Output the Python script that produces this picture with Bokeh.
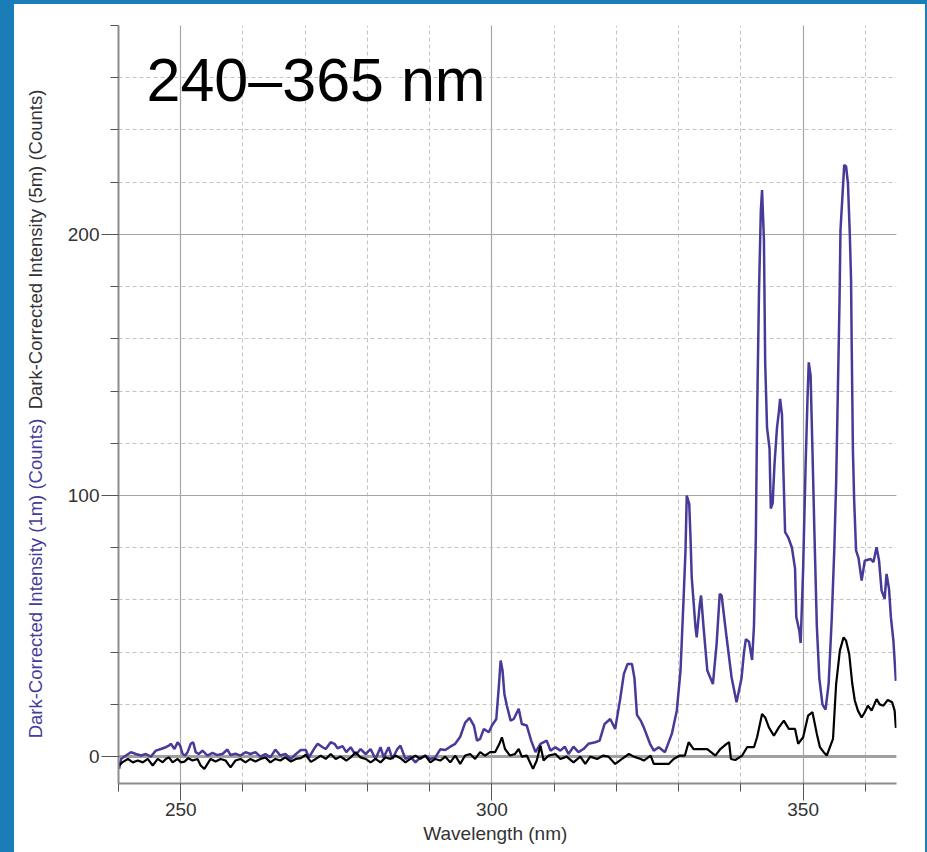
from bokeh.plotting import figure
from bokeh.models import Range1d, SingleIntervalTicker, Label, Span
from bokeh.layouts import row, column
from bokeh.core.properties import value
from bokeh.embed import file_html
from bokeh.resources import INLINE

# ---- data ----
wl_1m = [240.1, 240.4, 241.2, 242.0, 242.8, 243.6, 244.4, 245.2, 246.0, 246.8, 247.6, 248.1, 248.4, 249.0,
         249.5, 249.9, 250.3, 250.7, 251.1, 251.6, 252.0, 252.4, 252.9, 253.5, 254.3, 255.1, 255.9, 256.7,
         257.5, 258.0, 258.8, 259.6, 260.4, 261.2, 262.0, 262.8, 263.6, 264.4, 265.2, 266.0, 266.8, 267.7,
         268.5, 269.3, 270.1, 270.6, 271.4, 272.0, 272.8, 273.3, 274.1, 274.7, 275.2, 276.0, 276.6, 277.3,
         278.1, 278.9, 279.7, 280.5, 281.3, 282.1, 282.6, 283.4, 284.0, 284.8, 285.3, 286.1, 286.9, 287.7,
         288.5, 289.3, 290.1, 290.9, 291.7, 292.5, 293.3, 294.1, 294.9, 295.7, 296.4, 297.1, 297.6, 298.1,
         298.7, 299.5, 300.0, 300.7, 301.1, 301.4, 301.7, 302.0, 302.4, 303.0, 303.5, 304.3, 304.8, 305.6,
         306.3, 307.0, 307.8, 308.8, 309.4, 310.2, 311.0, 311.7, 312.3, 313.1, 313.9, 314.7, 315.5, 316.6,
         317.3, 318.1, 319.0, 319.8, 320.6, 321.2, 321.8, 322.5, 322.9, 323.3, 323.9, 324.4, 325.4, 326.0,
         326.8, 327.8, 328.9, 329.7, 330.3, 330.8, 331.1, 331.3, 331.7, 331.9, 332.1, 332.7, 332.9, 333.4,
         333.6, 334.0, 334.6, 335.5, 336.1, 336.6, 336.9, 337.7, 338.5, 339.3, 340.1, 340.5, 340.8, 341.3,
         341.8, 342.1, 342.4, 342.6, 342.9, 343.2, 343.4, 343.7, 343.9, 344.2, 344.6, 344.8, 345.1, 345.4,
         345.8, 346.1, 346.3, 346.6, 346.8, 347.1, 347.6, 348.2, 348.7, 348.9, 349.4, 349.6, 350.0, 350.4,
         350.7, 350.9, 351.2, 351.5, 351.8, 352.2, 352.6, 353.1, 353.6, 354.1, 354.6, 355.0, 355.3, 355.5,
         355.7, 355.85, 356.0, 356.3, 356.6, 356.9, 357.2, 357.5, 357.7, 357.8, 358.0, 358.2, 358.5, 358.9,
         359.4, 359.9, 360.8, 361.3, 361.8, 362.2, 362.6, 363.1, 363.4, 363.8, 364.1, 364.5, 364.9]
counts_1m = [-4.7, -0.9, 0.4, 1.7, 1.0, 0.4, 1.0, 0.0, 2.3, 2.9, 3.6, 4.2, 4.9, 2.9,
             5.5, 4.2, 1.0, 0.4, 1.7, 4.9, 5.5, 1.7, 1.0, 2.3, 0.4, 1.4, 0.6, 1.0,
             2.7, 0.6, 1.1, 0.4, 1.7, 1.0, 1.7, 0.0, 1.0, -0.3, 2.7, 0.4, 1.0, -0.9,
             1.0, 2.5, 2.5, -0.3, 2.9, 4.9, 3.6, 2.9, 5.5, 4.9, 3.2, 4.0, 1.7, 3.6,
             0.6, 2.9, 1.0, 2.9, -0.9, 3.6, -0.3, 3.6, -0.9, 2.9, 4.2, -0.9, 0.0, -2.2,
             -0.3, 0.4, -0.9, -0.3, 2.8, 2.5, 3.8, 4.9, 7.6, 13.0, 14.8, 11.9, 6.1, 6.8,
             10.6, 9.3, 11.9, 14.4, 26.6, 36.8, 33.0, 24.0, 19.5, 13.8, 14.4, 18.3, 12.5, 11.9,
             6.1, 1.7, 4.9, 6.1, 2.3, 3.6, 2.3, 3.8, 1.0, 3.8, 1.7, 2.9, 4.9, 5.5,
             6.1, 12.5, 14.4, 10.6, 22.0, 31.7, 35.5, 35.5, 30.0, 16.0, 13.8, 11.2, 4.9, 2.3,
             3.6, 1.7, 8.7, 17.6, 33.0, 61.0, 79.0, 100.0, 96.8, 84.0, 68.7, 49.6, 45.7, 58.5,
             61.7, 49.6, 33.0, 27.8, 43.2, 62.3, 61.7, 45.7, 30.4, 20.8, 30.0, 40.0, 45.0, 44.0,
             37.0, 50.0, 84.0, 130.0, 177.0, 209.0, 217.0, 198.0, 151.0, 126.0, 118.0, 95.0, 97.0, 112.0,
             126.0, 132.0, 137.0, 131.0, 112.0, 86.0, 84.0, 80.0, 72.0, 53.5, 48.0, 43.5, 72.0, 112.0,
             137.0, 151.0, 146.0, 117.0, 87.0, 50.0, 30.0, 20.0, 18.0, 28.0, 53.0, 79.0, 104.5, 130.0,
             155.7, 175.0, 201.7, 214.0, 226.6, 226.0, 219.5, 200.0, 182.5, 158.0, 117.0, 98.0, 79.0, 76.0,
             67.4, 75.0, 75.7, 74.5, 80.2, 75.0, 63.6, 60.4, 70.0, 64.2, 53.4, 44.4, 29.0]

wl_5m = [240.1, 240.6, 241.5, 242.3, 243.1, 243.9, 244.7, 245.5, 246.3, 247.1, 247.6, 248.1, 248.7, 249.5,
         250.0, 250.6, 251.2, 251.9, 252.7, 253.2, 253.8, 254.3, 254.8, 255.6, 256.4, 257.2, 258.0, 258.8,
         259.6, 260.4, 261.2, 262.0, 262.8, 263.6, 264.4, 265.2, 266.0, 266.8, 267.7, 268.5, 269.3, 270.1,
         270.9, 271.7, 272.5, 273.3, 274.1, 274.9, 275.7, 276.6, 277.3, 278.1, 278.9, 279.7, 280.5, 281.3,
         282.1, 282.9, 283.7, 284.5, 285.3, 286.1, 286.9, 287.7, 288.5, 289.3, 290.1, 290.9, 291.7, 292.5,
         293.3, 294.1, 294.9, 295.7, 296.5, 297.3, 298.1, 298.9, 299.7, 300.5, 301.2, 301.6, 302.1, 302.9,
         303.7, 304.3, 304.8, 305.6, 306.6, 307.2, 307.8, 308.3, 309.1, 310.2, 311.0, 312.0, 313.1, 314.2,
         315.0, 315.8, 316.9, 317.9, 318.7, 319.8, 320.9, 322.0, 322.8, 323.9, 324.4, 325.5, 326.0, 327.1,
         328.4, 329.2, 330.2, 331.0, 331.6, 332.4, 333.5, 334.6, 335.9, 336.7, 337.7, 338.1, 338.4, 339.1,
         340.2, 341.0, 342.1, 342.6, 343.4, 343.9, 344.5, 345.3, 346.1, 346.9, 347.7, 348.7, 349.2, 350.0,
         350.8, 351.5, 352.2, 352.7, 353.3, 353.8, 354.3, 354.8, 355.3, 355.9, 356.5, 356.9, 357.4, 357.9,
         358.3, 358.8, 359.4, 359.9, 360.4, 361.0, 361.8, 362.3, 362.9, 363.6, 364.3, 364.7, 364.9]
counts_5m = [-3.4, -2.2, -0.9, -2.2, -1.5, -2.2, -0.9, -3.4, -0.9, -2.2, -0.9, -0.3, -2.2, -0.9,
             -2.2, -1.9, -0.6, -1.5, -0.9, -3.4, -4.7, -2.8, -0.9, -1.9, -0.9, -1.5, -4.1, -1.5,
             -0.9, -2.2, -0.9, -1.9, -0.9, -0.3, -2.2, -0.9, -1.5, -0.3, -1.9, -0.9, -0.6, 0.7,
             -2.0, -0.9, 0.4, -0.9, 1.0, -0.9, 0.0, -1.5, -0.3, 1.7, -0.3, -0.9, -2.2, -0.9,
             -2.2, -0.3, -0.9, 0.4, -0.6, -2.2, -0.9, 0.4, -0.9, 0.4, -2.2, -0.9, -1.5, 0.0,
             -2.2, 0.4, -2.8, 0.4, 1.0, -0.9, 1.7, 0.4, 1.7, 1.7, 4.9, 7.4, 2.9, 0.4,
             1.0, 2.9, 0.0, 0.4, -4.7, -1.5, 4.2, -1.5, 0.4, 1.0, -0.9, 0.0, -2.2, 0.0,
             -2.8, 0.0, -0.9, 0.4, 0.0, -2.8, -0.9, 1.0, 0.0, -0.9, -1.5, 0.4, -2.8, -2.8,
             -2.8, -0.9, 0.4, 0.4, 5.5, 2.9, 2.9, 2.9, 0.4, 2.9, 4.9, 5.5, -0.9, -1.3,
             0.4, 3.6, 3.6, 7.4, 16.3, 15.0, 11.2, 8.0, 11.2, 13.8, 10.6, 10.6, 4.9, 7.4,
             15.7, 17.0, 8.7, 3.6, 1.7, 0.4, 3.6, 6.8, 27.8, 40.6, 45.7, 44.4, 39.3, 27.8,
             21.5, 17.6, 15.0, 17.0, 19.5, 17.6, 22.0, 20.0, 19.5, 21.7, 20.8, 17.6, 11.0]

title_text = "240\u2013365 nm"
x_label = "Wavelength (nm)"
y_label_1m = "Dark-Corrected Intensity (1m) (Counts)"
y_label_5m = "Dark-Corrected Intensity (5m) (Counts)"

PURPLE = "#463b98"
BLUE = "#1b7db8"
FONT = "Liberation Sans"


def blank(width, height):
    f = figure(width=width, height=height, output_backend="svg", toolbar_location=None,
               x_range=Range1d(0, width), y_range=Range1d(0, height),
               x_axis_type=None, y_axis_type=None,
               min_border=0, min_border_left=0, min_border_right=0,
               min_border_top=0, min_border_bottom=0,
               background_fill_color="white", border_fill_color="white")
    f.outline_line_color = None
    f.grid.visible = False
    return f


# ---- main plot ----
p = figure(width=861, height=820, output_backend="svg", toolbar_location=None,
           x_range=Range1d(240, 365), y_range=Range1d(-10.3, 280),
           min_border_left=54, min_border_right=29, min_border_top=21, min_border_bottom=41,
           background_fill_color="white", border_fill_color="white")
p.outline_line_color = None

p.xaxis.ticker = SingleIntervalTicker(interval=50, num_minor_ticks=5)
p.yaxis.ticker = SingleIntervalTicker(interval=100, num_minor_ticks=5)

for ax in (p.xaxis[0], p.yaxis[0]):
    ax.axis_line_color = "#8c8c8c"
    ax.axis_line_width = 2
    ax.major_tick_line_color = "#555555"
    ax.minor_tick_line_color = "#555555"
    ax.major_tick_in = 0
    ax.minor_tick_in = 0
    ax.major_tick_out = 17
    ax.minor_tick_out = 8
    ax.major_label_text_font = FONT
    ax.major_label_text_font_size = "19px"
    ax.major_label_text_color = "#333333"
p.xaxis.major_label_standoff = 2
p.yaxis.major_label_standoff = 2

for g in (p.xgrid[0], p.ygrid[0]):
    g.grid_line_color = "#a6a6a6"
    g.grid_line_width = 1.2
    g.minor_grid_line_color = "#c4c4c4"
    g.minor_grid_line_dash = "4 3"
    g.minor_grid_line_width = 1

p.add_layout(Span(location=0, dimension="width", line_color="#a0a0a0",
                  line_width=3, level="underlay"))

p.line(wl_1m, counts_1m, line_color=PURPLE, line_width=2.5)
p.line(wl_5m, counts_5m, line_color="black", line_width=2.2)

p.add_layout(Label(x=28, y=704, x_units="screen", y_units="screen", text=title_text,
                   text_font=FONT, text_font_size="61px", text_color="black",
                   text_baseline="middle", text_align="left"))

# ---- left strip with the two-coloured y label ----
lf = blank(50, 848)
lf.text(x=[21], y=[274], text=[y_label_1m], angle=1.5707963, text_align="center",
        text_baseline="middle", text_font=value(FONT), text_font_size="18.5px", text_color=PURPLE)
lf.text(x=[21], y=[603], text=[y_label_5m], angle=1.5707963, text_align="center",
        text_baseline="middle", text_font=value(FONT), text_font_size="18.5px", text_color="#333333")

# ---- bottom strip with the x label ----
bf = blank(861, 28)
bf.text(x=[417], y=[19], text=[x_label], text_align="center", text_baseline="middle",
        text_font=value(FONT), text_font_size="19px", text_color="#333333")

layout = row(lf, column(p, bf, spacing=0), spacing=0,
             styles={"border-left": f"14px solid {BLUE}", "border-top": f"4px solid {BLUE}",
                     "border-right": f"2px solid {BLUE}", "background-color": "white"})

open("out.html", "w").write(file_html(layout, INLINE))
